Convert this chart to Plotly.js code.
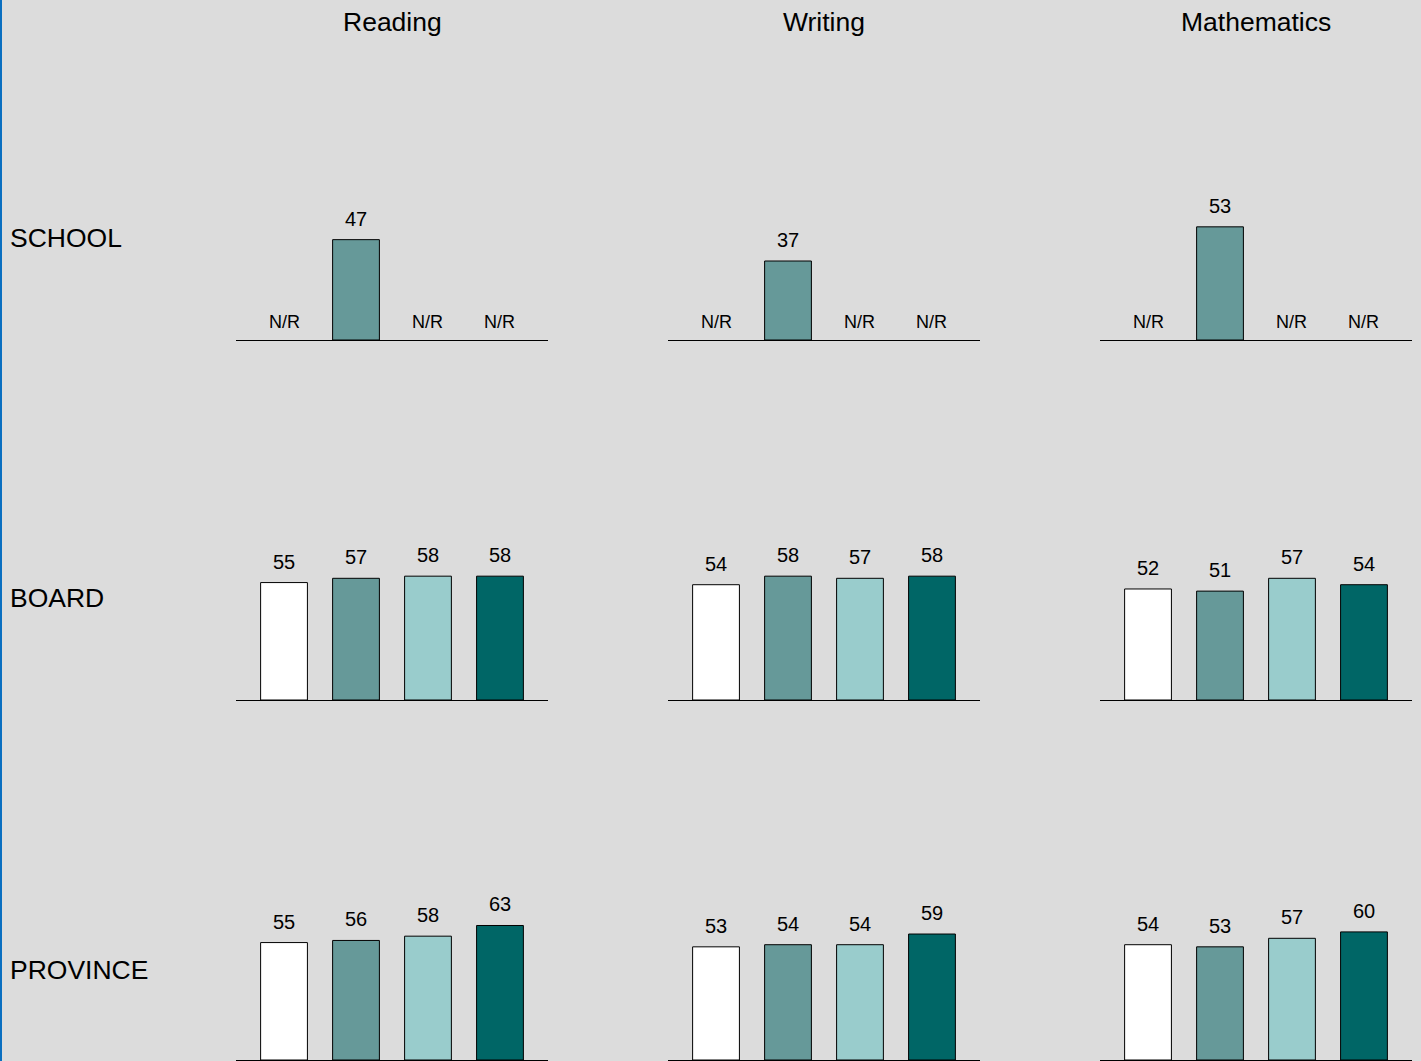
<!DOCTYPE html>
<html>
<head>
<meta charset="utf-8">
<script src="https://cdn.plot.ly/plotly-3.0.1.min.js"></script>
<style>html,body{margin:0;padding:0;background:#dcdcdc;}#chart{width:1421px;height:1061px;}</style>
</head>
<body>
<div id="chart"></div>
<script>
// ---- data ----
const subjects = ['Reading', 'Writing', 'Mathematics'];
const levels = ['SCHOOL', 'BOARD', 'PROVINCE'];
const categories = ['Group 1', 'Group 2', 'Group 3', 'Group 4'];
const categoryColors = ['#ffffff', '#669999', '#99cccc', '#006666'];

const schoolReading = [null, 47, null, null];
const schoolWriting = [null, 37, null, null];
const schoolMath = [null, 53, null, null];

const boardReading = [55, 57, 58, 58];
const boardWriting = [54, 58, 57, 58];
const boardMath = [52, 51, 57, 54];

const provinceReading = [55, 56, 58, 63];
const provinceWriting = [53, 54, 54, 59];
const provinceMath = [54, 53, 57, 60];

const missingLabel = 'N/R';

// ---- layout helpers ----
const W = 1421, H = 1061;
const grid = [
  [schoolReading, schoolWriting, schoolMath],
  [boardReading, boardWriting, boardMath],
  [provinceReading, provinceWriting, provinceMath]
];
const colLeft = [236, 668, 1100];
const colWidth = 312;
const rowBase = [340, 700, 1060];
const panelH = 213.5; // pixels for 0..100
const FONT = 'Liberation Sans, Arial, sans-serif';

const traces = [];
const layout = {
  width: W, height: H,
  margin: {l: 0, r: 0, t: 0, b: 0},
  paper_bgcolor: '#dcdcdc',
  plot_bgcolor: 'rgba(0,0,0,0)',
  showlegend: false,
  font: {family: FONT, color: '#000'},
  annotations: [],
  shapes: [{type: 'rect', xref: 'paper', yref: 'paper', x0: 0, x1: 2 / W, y0: 0, y1: 1,
            fillcolor: '#0a6fc0', line: {width: 0}, layer: 'above'}]
};

let k = 0;
for (let r = 0; r < 3; r++) {
  for (let c = 0; c < 3; c++) {
    k++;
    const xa = 'x' + (k === 1 ? '' : k), ya = 'y' + (k === 1 ? '' : k);
    const xKey = 'xaxis' + (k === 1 ? '' : k), yKey = 'yaxis' + (k === 1 ? '' : k);
    const vals = grid[r][c];
    traces.push({
      type: 'bar', x: categories.map((_, i) => i), y: vals,
      xaxis: xa, yaxis: ya, width: 0.65,
      marker: {color: categoryColors, line: {color: '#000', width: 1}},
      opacity: 1, hoverinfo: 'skip'
    });
    layout[xKey] = {
      domain: [colLeft[c] / W, (colLeft[c] + colWidth) / W],
      range: [-0.667, 3.667], showline: true, linecolor: '#000', linewidth: 1,
      showticklabels: false, showgrid: false, zeroline: false, ticks: '', fixedrange: true,
      anchor: ya
    };
    layout[yKey] = {
      domain: [1 - rowBase[r] / H, 1 - (rowBase[r] - panelH) / H],
      range: [0, 100], visible: false, showgrid: false, zeroline: false, fixedrange: true,
      anchor: xa
    };
    vals.forEach((v, i) => {
      if (v === null) {
        layout.annotations.push({xref: xa, yref: ya, x: i, y: 0, text: missingLabel,
          showarrow: false, yanchor: 'bottom', yshift: 6, font: {size: 18, family: FONT, color: '#000'}});
      } else {
        layout.annotations.push({xref: xa, yref: ya, x: i, y: v, text: String(v),
          showarrow: false, yanchor: 'bottom', yshift: 8, font: {size: 20, family: FONT, color: '#000'}});
      }
    });
  }
}

// column titles
subjects.forEach((s, c) => {
  layout.annotations.push({xref: 'paper', yref: 'paper', x: (colLeft[c] + colWidth / 2) / W, y: 1 - 22 / H,
    text: s, showarrow: false, xanchor: 'center', yanchor: 'middle', font: {size: 26.5, family: FONT, color: '#000'}});
});
// row labels
levels.forEach((l, r) => {
  const yc = [238, 598, 970][r];
  layout.annotations.push({xref: 'paper', yref: 'paper', x: 8 / W, y: 1 - yc / H,
    text: l, showarrow: false, xanchor: 'left', yanchor: 'middle', font: {size: 26.5, family: FONT, color: '#000'}});
});

Plotly.newPlot('chart', traces, layout, {staticPlot: true, displayModeBar: false});
</script>
</body>
</html>
